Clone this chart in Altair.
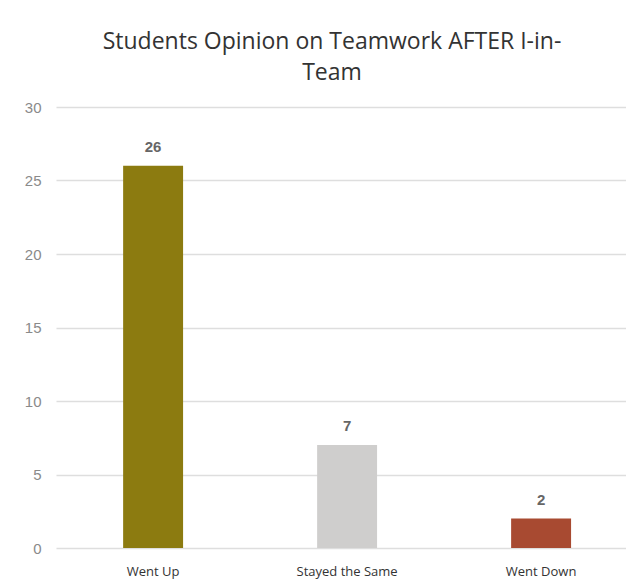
import altair as alt
import pandas as pd

categories = ["Went Up", "Stayed the Same", "Went Down"]
values = [26, 7, 2]
colors = ["#8C7B10", "#CFCECD", "#A84A31"]

df = pd.DataFrame({"cat": categories, "val": values, "color": colors})

x = alt.X("cat:N", sort=categories, title=None,
          scale=alt.Scale(paddingInner=0.691, paddingOuter=0.3146, align=0.55),
          axis=alt.Axis(labelAngle=0, labelFont="Open Sans", labelFontSize=13,
                        labelColor="#333333", domain=False, ticks=False, labelPadding=17))
y = alt.Y("val:Q", title=None,
          scale=alt.Scale(domain=[0, 30]),
          axis=alt.Axis(values=[0, 5, 10, 15, 20, 25, 30], labelFont="Liberation Sans",
                        labelFontSize=15, labelColor="#8a8a8a", domain=False, ticks=False,
                        labelPadding=15, gridColor="#dedede", gridWidth=1.5))

bars = alt.Chart(df).mark_bar().encode(
    x=x, y=y, color=alt.Color("color:N", scale=None)
)
labels = alt.Chart(df).mark_text(
    dy=-19, font="Liberation Sans", fontSize=15, fontWeight="bold", color="#666666"
).encode(x=x, y=y, text="val:Q")

chart = (bars + labels).properties(
    width=570, height=441,
    background="white",
    autosize=alt.AutoSizeParams(type="none"),
    padding={"left": 56, "top": 107, "right": 0, "bottom": 35},
    title=alt.TitleParams(
        text=["Students Opinion on Teamwork AFTER I-in-", "Team"],
        font="Open Sans", fontSize=23, fontWeight="normal", color="#333333",
        anchor="middle", dx=-9, offset=15, lineHeight=31
    )
).configure_view(stroke=None)

chart.save("out.html", embed_options={"renderer": "svg", "actions": False})
